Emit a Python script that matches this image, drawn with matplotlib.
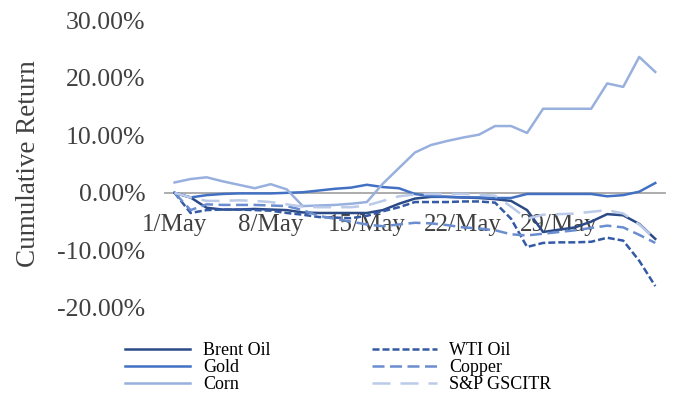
import numpy as np
import matplotlib.pyplot as plt

# cumulative returns (%) per trading day
brent = [0.0, -0.8, -2.6, -2.9, -2.9, -2.8, -2.9, -3.0, -3.4, -3.5, -3.5, -3.5, -3.5,
         -3.0, -1.9, -1.0, -0.7, -0.7, -0.8, -0.9, -1.1, -1.4, -3.0, -6.8, -6.4, -6.0,
         -5.0, -3.7, -3.9, -5.4, -8.0]
wti = [0.0, -3.5, -3.0, -2.9, -2.9, -3.0, -3.1, -3.5, -3.8, -4.2, -4.3, -4.4, -4.0,
       -3.2, -2.5, -1.6, -1.6, -1.6, -1.5, -1.5, -1.7, -4.5, -9.4, -8.7, -8.6, -8.6,
       -8.5, -7.8, -8.3, -11.8, -16.2]
gold = [0.0, -0.8, -0.4, -0.2, -0.1, -0.1, -0.1, 0.0, 0.1, 0.4, 0.7, 0.9, 1.4,
        1.0, 0.8, -0.2, -0.6, -0.7, -0.8, -0.8, -0.9, -0.9, -0.2, -0.2, -0.2, -0.2,
        -0.2, -0.6, -0.4, 0.2, 1.7]
copper = [0.0, -3.0, -2.0, -2.1, -2.1, -2.1, -2.2, -2.3, -3.0, -4.0, -4.5, -5.0, -5.5,
          -5.8, -5.5, -5.2, -5.3, -5.6, -6.0, -6.2, -6.5, -7.2, -7.4, -7.1, -6.8, -6.5,
          -6.1, -5.7, -6.0, -7.3, -8.7]
corn = [1.8, 2.4, 2.7, 2.0, 1.4, 0.8, 1.5, 0.6, -2.3, -2.2, -2.1, -1.9, -1.6,
        1.6, 4.3, 7.0, 8.3, 9.0, 9.6, 10.1, 11.6, 11.6, 10.4, 14.6, 14.6, 14.6,
        14.6, 19.0, 18.4, 23.6, 21.0]
gscitr = [0.0, -0.8, -1.4, -1.4, -1.3, -1.4, -1.6, -2.0, -2.4, -2.5, -2.5, -2.5, -2.2,
          -1.4, -0.6, -0.3, -0.2, -0.2, -0.2, -0.3, -0.5, -2.4, -4.5, -3.8, -3.7, -3.6,
          -3.3, -3.0, -3.6, -5.5, -8.0]

tick_pos = [0, 6, 12, 18, 24]
tick_labels = ['1/May', '8/May', '15/May', '22/May', '29/May']

plt.rcParams['font.family'] = 'Liberation Serif'

fig = plt.figure(figsize=(6.75, 3.94), dpi=100)
ax = fig.add_axes([0.2444, 0.2183, 0.7406, 0.7307])

x = np.arange(len(corn))
lw = 1.8
l_brent, = ax.plot(x, brent, color='#2B4A86', lw=lw, label='Brent Oil')
l_wti, = ax.plot(x, wti, color='#3459A5', lw=lw, dashes=(2.8, 1.2), label='WTI Oil')
l_gold, = ax.plot(x, gold, color='#4270C2', lw=lw, label='Gold')
l_copper, = ax.plot(x, copper, color='#6A8DD0', lw=lw, dashes=(4.8, 2.2), label='Copper')
l_corn, = ax.plot(x, corn, color='#98B0DD', lw=lw, label='Corn')
l_gsci, = ax.plot(x, gscitr, color='#BACAE8', lw=lw, dashes=(7.2, 4.0), label='S&P GSCITR')

ax.set_xlim(-0.6, 30.6)
ax.set_ylim(-20, 30)
ax.set_yticks([-20, -10, 0, 10, 20, 30])
ax.set_yticklabels(['%.2f%%' % v for v in [-20, -10, 0, 10, 20, 30]])
ax.set_xticks(tick_pos)
ax.set_xticklabels(tick_labels)

for s in ['top', 'right', 'left']:
    ax.spines[s].set_visible(False)
ax.spines['bottom'].set_position(('data', 0))
ax.spines['bottom'].set_color('#A6A6A6')
ax.spines['bottom'].set_linewidth(1.3)
ax.spines['bottom'].set_zorder(0)
ax.tick_params(axis='y', length=0, pad=14, labelsize=18.5, labelcolor='#404040')
ax.tick_params(axis='x', length=0, pad=15, labelsize=18, labelcolor='#404040')
ax.set_ylabel('Cumulative Return', fontsize=19.5, color='#404040')
ax.yaxis.set_label_coords(-0.247, 0.5)

handles = [l_brent, l_gold, l_corn, l_wti, l_copper, l_gsci]
fig.legend(handles=handles, labels=[h.get_label() for h in handles],
           loc='upper left', bbox_to_anchor=(0.175, 0.15), ncol=2, frameon=False,
           fontsize=13, handlelength=3.6, handletextpad=0.7, columnspacing=5.6,
           labelspacing=0.0, borderaxespad=0)

fig.savefig('out.png', dpi=100)
